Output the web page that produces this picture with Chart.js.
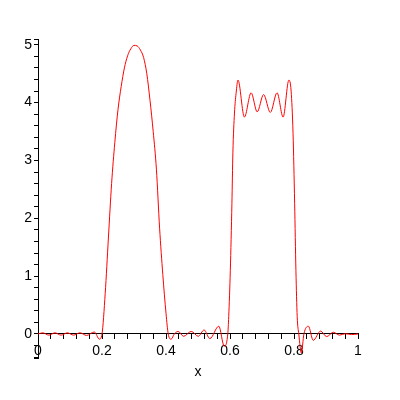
<!DOCTYPE html>
<html>
<head>
<meta charset="utf-8">
<script src="https://cdn.jsdelivr.net/npm/chart.js@4"></script>
<style>
  html, body { margin: 0; padding: 0; background: #fff; }
  canvas { display: block; }
</style>
</head>
<body>
<canvas id="plot" width="400" height="400"></canvas>
<script>
// values
const xs = [
  0.000, 0.015, 0.034, 0.053, 0.072, 0.092, 0.111, 0.131, 0.152, 0.176, 0.192, 0.200,
  0.210, 0.220, 0.230, 0.240, 0.250, 0.260, 0.270, 0.280, 0.290, 0.300, 0.310,
  0.320, 0.330, 0.340, 0.350, 0.360, 0.370, 0.380, 0.390, 0.400, 0.407,
  0.416, 0.426, 0.438, 0.455, 0.479, 0.501, 0.519, 0.537, 0.565, 0.582, 0.593,
  0.596, 0.601, 0.606, 0.609, 0.614, 0.619, 0.625, 0.645, 0.666, 0.685, 0.705,
  0.726, 0.747, 0.766, 0.784, 0.791, 0.797, 0.802, 0.806, 0.810, 0.815,
  0.823, 0.831, 0.845, 0.860, 0.883, 0.902, 0.923, 0.942, 0.960, 0.980, 1.000
];
const ys = [
  0.00, 0.02, -0.02, 0.02, -0.02, 0.02, -0.02, 0.02, -0.025, 0.035, -0.09, 0.00,
  0.70, 1.66, 2.60, 3.31, 3.88, 4.28, 4.60, 4.81, 4.93, 4.99, 4.98,
  4.91, 4.78, 4.50, 4.04, 3.50, 2.85, 1.83, 1.03, 0.36, 0.00,
  -0.09, 0.00, 0.045, -0.04, 0.045, -0.04, 0.07, -0.08, 0.135, -0.21, 0.00,
  0.30, 1.10, 2.26, 3.13, 3.82, 4.16, 4.39, 3.75, 4.17, 3.84, 4.14,
  3.83, 4.17, 3.75, 4.39, 4.20, 3.47, 2.26, 1.10, 0.30, 0.00,
  -0.33, 0.00, 0.135, -0.11, 0.05, -0.045, 0.03, -0.02, 0.005, -0.01, 0.00
];
const xTickLabels = ['0', '0.2', '0.4', '0.6', '0.8', '1'];
const yTickLabels = ['0', '1', '2', '3', '4', '5'];

Chart.defaults.font.family = "'Liberation Sans', Arial, sans-serif";
Chart.defaults.font.size = 14;
Chart.defaults.color = '#000';

function labelFor(list, v) {
  const hit = list.find(l => Math.abs(parseFloat(l) - v) < 1e-6);
  return hit === undefined ? '' : hit;
}

const ctx = document.getElementById('plot').getContext('2d');
new Chart(ctx, {
  type: 'line',
  data: {
    datasets: [{
      data: xs.map((x, i) => ({ x: x, y: ys[i] })),
      borderColor: '#ff0000',
      borderWidth: 1,
      pointRadius: 0,
      cubicInterpolationMode: 'monotone',
      fill: false
    }]
  },
  options: {
    responsive: false,
    animation: false,
    devicePixelRatio: 1,
    layout: { padding: { left: 0, top: 39, right: 42, bottom: 42 } },
    plugins: { legend: { display: false }, tooltip: { enabled: false } },
    scales: {
      x: {
        type: 'linear',
        position: { y: 0 },
        min: 0,
        max: 1,
        border: { display: true, color: '#000', width: 1 },
        grid: { drawOnChartArea: false, drawTicks: true, tickLength: 5, color: '#000' },
        ticks: {
          stepSize: 0.04,
          autoSkip: false,
          maxRotation: 0,
          padding: 4,
          callback: v => labelFor(xTickLabels, v)
        },
        title: { display: true, text: 'x', padding: { top: 0, bottom: 0 } }
      },
      y: {
        type: 'linear',
        position: 'left',
        min: -0.415,
        max: 5.1,
        afterFit: s => { s.width = 38; },
        // minor ticks every 0.2 plus a mark at each end of the axis
        afterBuildTicks: s => {
          const t = [{ value: s.min }];
          for (let k = -2; k <= 25; k++) t.push({ value: k / 5 });
          t.push({ value: s.max });
          s.ticks = t;
        },
        border: { display: true, color: '#000', width: 1 },
        grid: { drawOnChartArea: false, drawTicks: true, tickLength: 4, color: '#000' },
        ticks: {
          autoSkip: false,
          padding: 2,
          callback: v => labelFor(yTickLabels, v)
        }
      }
    }
  }
});
</script>
</body>
</html>
